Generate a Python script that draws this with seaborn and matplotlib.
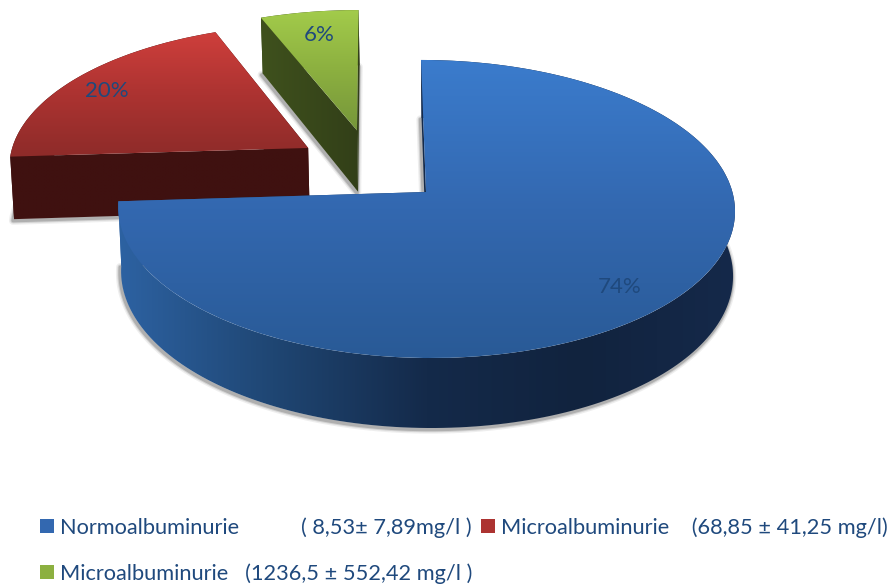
import numpy as np
import matplotlib
matplotlib.use("Agg")
import matplotlib.pyplot as plt
from matplotlib.patches import PathPatch, Patch
from matplotlib.path import Path
import seaborn as sns

# ---- data ----
categories = ["Normoalbuminurie           ( 8,53± 7,89mg/l )",
              "Microalbuminurie    (68,85 ± 41,25 mg/l)",
              "Microalbuminurie   (1236,5 ± 552,42 mg/l )"]
values = [74, 20, 6]

# ---- styles ----
offset_u = [0.0, -0.393, -0.229]      # explosion of each slice, unit-disc coords
offset_v = [0.0, 0.31, 0.44]
top_colors = [["#3b7ccd", "#3368b0", "#295a96"],
              ["#cf3f3c", "#ac3331", "#8d2b29"],
              ["#a3cc4b", "#8cb040", "#76963a"]]
side_colors = [["#2d62a2", "#1f4673", "#142a4a", "#11233e", "#15294a"],
               ["#401110", "#3f1110"],
               ["#3f511d", "#323f18"]]
legend_colors = ["#3368b0", "#ac3331", "#8cb040"]
label_xy = [(620, 287), (107, 91), (319, 35)]
text_color = "#1f497d"
W, H = 896, 586

sns.set_theme(style="white")
plt.rcParams["font.family"] = ["Lato", "DejaVu Sans"]
fig = plt.figure(figsize=(W / 100, H / 100), dpi=100, facecolor="white")
ax = fig.add_axes([0, 0, 1, 1])

# Geometry comes from the library's pie
wedges, _ = ax.pie(values, startangle=90, counterclock=False, radius=1)
geometry = [(w.get_path(), w.theta1, w.theta2) for w in wedges]
for w in wedges:
    w.remove()
ax.set_aspect("auto")
ax.set_xlim(0, W)
ax.set_ylim(H, 0)
ax.axis("off")


def project(u, v, bottom=False):
    """Perspective view of the tilted disc, returned in figure pixels."""
    u, v = np.asarray(u, float), np.asarray(v, float)
    d = 1 + 0.114 * v
    x = 306.4 * u / d - 5 * v
    y = (192 - 125.2 * v) / d
    if bottom:
        return 426.5 + 0.992 * x, y + 64 - 6 * v
    return 426 + x, y


def gradient(cmap, extent, clip, horizontal):
    g = np.linspace(0, 1, 256)
    img = g[None, :] if horizontal else g[:, None]
    im = ax.imshow(img, cmap=cmap, extent=extent, aspect="auto",
                   interpolation="bilinear", zorder=ax_order[0])
    im.set_clip_path(clip)
    ax_order[0] += 1


ax_order = [5]
arcs = [np.radians(np.linspace(t1, t2, 200)) for _, t1, t2 in geometry]

# soft shadows from the bottom faces
for i, th in enumerate(arcs):
    u = np.r_[offset_u[i], offset_u[i] + np.cos(th)]
    v = np.r_[offset_v[i], offset_v[i] + np.sin(th)]
    x, y = project(u, v, bottom=True)
    x, y = x - 1, y + 1.5
    for lw, a in [(6, .08), (4, .14), (2.5, .22)]:
        ax.fill(x, y, facecolor="none", edgecolor="#303030", alpha=a, lw=lw,
                zorder=1, joinstyle="round")

# slices: back ones first
for i in [1, 2, 0]:
    ou, ov = offset_u[i], offset_v[i]
    th = arcs[i]
    path = geometry[i][0]
    rimu, rimv = ou + np.cos(th), ov + np.sin(th)
    tipu, tipv = np.array([ou]), np.array([ov])
    walls = [(rimu, rimv),
             (np.r_[ou, rimu[0]], np.r_[ov, rimv[0]]),
             (np.r_[ou, rimu[-1]], np.r_[ov, rimv[-1]])]
    xt, yt = project(np.r_[tipu, rimu], np.r_[tipv, rimv])
    xb, yb = project(np.r_[tipu, rimu], np.r_[tipv, rimv], bottom=True)
    side_ext = (min(xt.min(), xb.min()), max(xt.max(), xb.max()),
                max(yt.max(), yb.max()) + 1, min(yt.min(), yb.min()) - 1)
    side_cmap = sns.blend_palette(side_colors[i], as_cmap=True)
    for wu, wv in walls:
        x1, y1 = project(wu, wv)
        x2, y2 = project(wu, wv, bottom=True)
        poly = np.c_[np.r_[x1, x2[::-1]], np.r_[y1, y2[::-1]]]
        clip = PathPatch(Path(np.r_[poly, poly[:1]], closed=True),
                         transform=ax.transData, facecolor="none", edgecolor="none")
        ax.add_patch(clip)
        gradient(side_cmap, side_ext, clip, True)
    # top face: wedge path from the pie, moved and projected
    vx, vy = project(path.vertices[:, 0] + ou, path.vertices[:, 1] + ov)
    top_path = Path(np.c_[vx, vy], path.codes)
    clip = PathPatch(top_path, transform=ax.transData, facecolor="none", edgecolor="none")
    ax.add_patch(clip)
    top_cmap = sns.blend_palette(top_colors[i], as_cmap=True)
    gradient(top_cmap, (vx.min(), vx.max(), yt.max() + 1, yt.min() - 1), clip, False)

ax.set_xlim(0, W)
ax.set_ylim(H, 0)

for val, (lx, ly) in zip(values, label_xy):
    ax.text(lx, ly, f"{val}%", color=text_color, fontsize=16,
            ha="center", va="center", zorder=50)

handles = [Patch(facecolor=c, edgecolor="none") for c in legend_colors]
order = [0, 2, 1]     # columns fill first
leg = ax.legend([handles[k] for k in order], [categories[k] for k in order],
                ncol=2, frameon=False, loc="upper left",
                bbox_to_anchor=(40, 517), bbox_transform=ax.transData,
                fontsize=15.7, labelcolor=text_color, borderaxespad=0, borderpad=0,
                handlelength=0.64, handleheight=0.64, handletextpad=0.27,
                columnspacing=0.4, labelspacing=1.17)
leg.set_zorder(60)

fig.savefig("out.png", dpi=100, facecolor="white")
